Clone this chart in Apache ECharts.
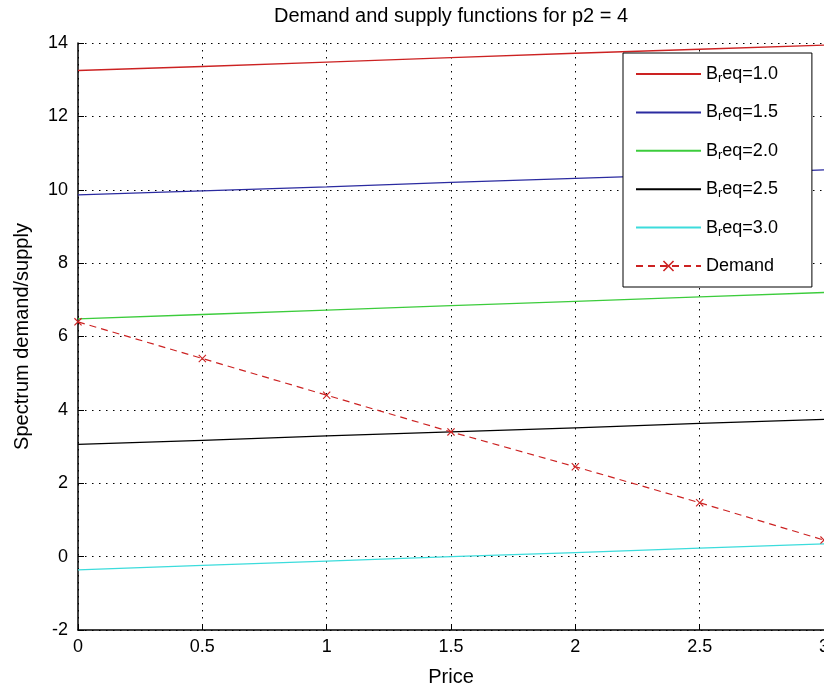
<!DOCTYPE html>
<html>
<head>
<meta charset="utf-8">
<script src="https://cdn.jsdelivr.net/npm/echarts@6/dist/echarts.min.js"></script>
<style>
    html, body { margin: 0; padding: 0; background: #fff; }
    #chart { width: 824px; height: 693px; }
</style>
</head>
<body>
<div id="chart"></div>
<script>
// price points (x)
var prices = [0, 0.5, 1, 1.5, 2, 2.5, 3];

// supply curves, one per B_req
var supply10 = [13.25, 13.36, 13.48, 13.60, 13.72, 13.83, 13.94];
var supply15 = [9.86, 9.97, 10.08, 10.20, 10.31, 10.42, 10.54];
var supply20 = [6.48, 6.60, 6.72, 6.84, 6.96, 7.08, 7.20];
var supply25 = [3.06, 3.17, 3.29, 3.40, 3.51, 3.63, 3.74];
var supply30 = [-0.36, -0.24, -0.12, 0.00, 0.11, 0.23, 0.35];

// demand
var demand = [6.40, 5.40, 4.40, 3.40, 2.45, 1.47, 0.45];

var seriesNames = ['B_req=1.0', 'B_req=1.5', 'B_req=2.0', 'B_req=2.5', 'B_req=3.0', 'Demand'];
var seriesColors = ['#cc2222', '#2b2ba0', '#3ccc3c', '#000000', '#3cdcdc', '#cc2222'];

function pairs(ys) {
    return prices.map(function (x, i) { return [x, ys[i]]; });
}

var chart = echarts.init(document.getElementById('chart'));

var font = 'Liberation Sans';
var crossIcon = 'path://M0,1L1,0L5,4L9,0L10,1L6,5L10,9L9,10L5,6L1,10L0,9L4,5Z';

var supplyList = [supply10, supply15, supply20, supply25, supply30];
var series = supplyList.map(function (ys, i) {
    return {
        name: seriesNames[i],
        type: 'line',
        data: pairs(ys),
        showSymbol: false,
        lineStyle: { color: seriesColors[i], width: 1.3 },
        itemStyle: { color: seriesColors[i] },
        animation: false
    };
});
series.push({
    name: 'Demand',
    type: 'line',
    data: pairs(demand),
    symbol: crossIcon,
    symbolSize: 8,
    itemStyle: { color: '#cc2222' },
    lineStyle: { color: '#cc2222', width: 1.2, type: [7, 5] },
    animation: false
});

// legend entries: supply lines without a marker
var legendData = seriesNames.map(function (name, i) {
    if (i < 5) return { name: name, itemStyle: { opacity: 0 } };
    return { name: name };
});

chart.setOption({
    backgroundColor: '#fff',
    title: {
        text: 'Demand and supply functions for p2 = 4',
        left: 446,
        top: 1,
        textAlign: 'center',
        textStyle: { fontFamily: font, fontSize: 20, fontWeight: 'normal', color: '#000' }
    },
    legend: {
        orient: 'vertical',
        left: 623,
        top: 53,
        padding: [12, 34, 12, 12],
        itemGap: 18.4,
        itemWidth: 65,
        itemHeight: 14,
        backgroundColor: '#fff',
        borderColor: '#000',
        borderWidth: 1,
        data: legendData,
        formatter: function (name) {
            if (name.indexOf('B_r') === 0) {
                return '{n|B}{s|r}{n|' + name.slice(3) + '}';
            }
            return '{n|' + name + '}';
        },
        textStyle: {
            fontFamily: font,
            fontSize: 18,
            color: '#000',
            rich: {
                n: { fontFamily: font, fontSize: 18, color: '#000' },
                s: { fontFamily: font, fontSize: 13, color: '#000', padding: [9, 0, 0, 0] }
            }
        }
    },
    grid: { left: 78, right: 0, top: 43, bottom: 63, outerBoundsMode: 'none' },
    xAxis: {
        type: 'value',
        min: 0,
        max: 3,
        interval: 0.5,
        name: 'Price',
        nameLocation: 'middle',
        nameGap: 37,
        nameTextStyle: { fontFamily: font, fontSize: 20, color: '#000' },
        axisLine: { onZero: false, lineStyle: { color: '#000', width: 1.5 } },
        axisTick: { inside: true, length: 6, lineStyle: { color: '#000' } },
        axisLabel: { fontFamily: font, fontSize: 18, color: '#000', margin: 8 },
        splitLine: { show: true, lineStyle: { color: '#000', width: 1, type: [1.5, 5.5] } }
    },
    yAxis: {
        type: 'value',
        min: -2,
        max: 14,
        interval: 2,
        name: 'Spectrum demand/supply',
        nameLocation: 'middle',
        nameGap: 46,
        nameTextStyle: { fontFamily: font, fontSize: 20, color: '#000' },
        axisLine: { show: true, onZero: false, lineStyle: { color: '#000', width: 1.5 } },
        axisTick: { show: true, inside: true, length: 6, lineStyle: { color: '#000' } },
        axisLabel: { fontFamily: font, fontSize: 18, color: '#000', margin: 10 },
        splitLine: { show: true, lineStyle: { color: '#000', width: 1, type: [1.5, 5.5] } }
    },
    series: series
});
</script>
</body>
</html>
